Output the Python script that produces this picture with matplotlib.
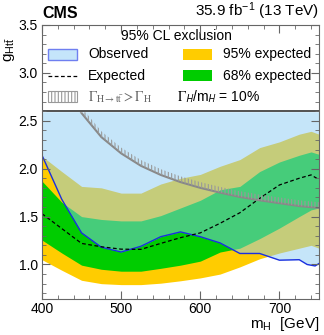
import numpy as np
import matplotlib
matplotlib.use('Agg')
import matplotlib.pyplot as plt
from matplotlib.patches import Rectangle
from matplotlib.lines import Line2D

plt.rcParams['font.family'] = ['Liberation Sans', 'DejaVu Sans']
plt.rcParams['mathtext.fontset'] = 'custom'
plt.rcParams['mathtext.rm'] = 'Liberation Sans'
plt.rcParams['mathtext.it'] = 'Liberation Sans:italic'
plt.rcParams['hatch.linewidth'] = 0.8

# expected bands and expected limit
band_mass = [400, 425, 450, 475, 500, 525, 550, 575, 600, 625, 650, 675, 700, 725, 740, 750]
lo95 = [1.05, 0.94, 0.835, 0.80, 0.79, 0.79, 0.805, 0.83, 0.86, 0.90, 0.975, 1.06, 1.12, 1.17, 1.20, 1.17]
lo68 = [1.255, 1.12, 0.993, 0.95, 0.93, 0.93, 0.96, 0.993, 1.035, 1.13, 1.17, 1.27, 1.38, 1.50, 1.57, 1.59]
hi68 = [1.87, 1.65, 1.50, 1.47, 1.455, 1.455, 1.51, 1.59, 1.67, 1.78, 1.815, 1.97, 2.07, 2.14, 2.175, 2.15]
hi95 = [2.13, 1.97, 1.815, 1.80, 1.745, 1.745, 1.84, 1.90, 1.94, 2.025, 2.095, 2.22, 2.28, 2.36, 2.39, 2.36]
exp_g = [1.53, 1.375, 1.22, 1.185, 1.16, 1.158, 1.22, 1.28, 1.33, 1.43, 1.54, 1.69, 1.83, 1.90, 1.935, 1.885]

# observed limit
obs_mass = [400, 425, 450, 475, 500, 525, 550, 575, 600, 625, 650, 675, 700, 725, 735, 745, 750]
obs_g = [2.14, 1.68, 1.33, 1.18, 1.13, 1.19, 1.29, 1.34, 1.29, 1.225, 1.115, 1.115, 1.045, 1.05, 1.0, 0.985, 1.01]

# width constraint curve (Gamma_H->tt > Gamma_H above it)
width_mass = [440, 450, 475, 500, 525, 550, 575, 600, 625, 650, 675, 700, 725, 750]
width_g = [2.72, 2.58, 2.33, 2.16, 2.03, 1.935, 1.86, 1.80, 1.75, 1.705, 1.67, 1.64, 1.61, 1.59]

yellow = '#ffcc00'
green = '#00cc00'
obs_fill = '#8cccf5'
obs_line = '#1a2fe0'
grey = '#888888'

fig = plt.figure(figsize=(3.24, 3.35), dpi=100)
ax = fig.add_axes([0.1296, 0.1075, 0.855, 0.818])
ax.set_xlim(400, 750)
ax.set_ylim(0.64, 3.5)

ax.fill_between(band_mass, lo95, hi95, color=yellow, lw=0, zorder=1)
ax.fill_between(band_mass, lo68, hi68, color=green, lw=0, zorder=2)
ax.fill_between(obs_mass, obs_g, 3.5, color=obs_fill, alpha=0.5, lw=0, zorder=3)
ax.plot(obs_mass, obs_g, color=obs_line, lw=1, zorder=5)
ax.plot(band_mass, exp_g, color='k', ls=(0, (3, 2)), lw=0.9, zorder=5)
ax.plot(width_mass, width_g, color=grey, lw=1.5, zorder=6)
ax.fill_between(width_mass, width_g, np.array(width_g) + 0.06, facecolor='none',
                edgecolor='#999999', hatch='|||||', lw=0, zorder=6)

# legend box on top of the plot
ax.axhspan(2.6, 3.5, color='white', zorder=10)
ax.axhline(2.6, color='#333333', lw=1.2, zorder=11)

tr = ax.transAxes
pw, ph = 0.107, 0.039
fs = 10
ax.text(0.486, 0.958, '95% CL exclusion', transform=tr, ha='center', va='center', fontsize=fs, zorder=12)
rows = [0.893, 0.815, 0.738]
ax.add_patch(Rectangle((0.0206, rows[0] - ph / 2), pw, ph, transform=tr, facecolor='#c5e5fa',
                       edgecolor='#6f7ff0', lw=1, zorder=12))
ax.text(0.167, rows[0], 'Observed', transform=tr, va='center', fontsize=fs, zorder=12)
ax.add_artist(Line2D([0.0206, 0.0206 + pw], [rows[1], rows[1]], transform=tr, color='k',
                     ls=(0, (3, 2)), lw=0.9, zorder=12))
ax.text(0.167, rows[1], 'Expected', transform=tr, va='center', fontsize=fs, zorder=12)
ax.add_patch(Rectangle((0.0206, rows[2] - ph / 2), pw, ph, transform=tr, facecolor='white',
                       edgecolor='#999999', hatch='|||||', lw=0.8, zorder=12))
ax.text(0.167, rows[2], r'$\Gamma_{\mathrm{H\rightarrow t\bar{t}}} > \Gamma_{\mathrm{H}}$', transform=tr,
        va='center', fontsize=fs, color='#666666', math_fontfamily='stix', zorder=12)

ax.add_patch(Rectangle((0.508, rows[0] - ph / 2), pw, ph, transform=tr, facecolor=yellow,
                       edgecolor='none', zorder=12))
ax.text(0.652, rows[0], '95% expected', transform=tr, va='center', fontsize=fs, zorder=12)
ax.add_patch(Rectangle((0.508, rows[1] - ph / 2), pw, ph, transform=tr, facecolor=green,
                       edgecolor='none', zorder=12))
ax.text(0.652, rows[1], '68% expected', transform=tr, va='center', fontsize=fs, zorder=12)
ax.text(0.486, rows[2], r'$\Gamma_{\mathsf{H}}$/m$_{\mathsf{H}}$ = 10%', transform=tr,
        va='center', fontsize=fs, math_fontfamily='stix', zorder=12)

# titles and axis labels
ax.text(0.0, 1.015, 'CMS', transform=tr, ha='left', va='bottom', fontsize=11.5, fontweight='bold')
ax.text(1.0, 1.012, r'35.9 fb$^{-1}$ (13 TeV)', transform=tr, ha='right', va='bottom', fontsize=11)
ax.text(1.0, -0.09, r'm$_{\mathrm{H}}$  [GeV]', transform=tr, ha='right', va='center', fontsize=11)
ax.text(-0.119, 0.909, r'g$_{\mathrm{Ht\bar{t}}}$', transform=tr, ha='center', va='center',
        rotation=90, fontsize=11)

ax.set_xticks([400, 500, 600, 700])
ax.set_yticks([1.0, 1.5, 2.0, 2.5, 3.0, 3.5])
ax.set_yticklabels(['1.0', '1.5', '2.0', '2.5', '3.0', '3.5'])
ax.xaxis.set_minor_locator(matplotlib.ticker.MultipleLocator(20))
ax.yaxis.set_minor_locator(matplotlib.ticker.MultipleLocator(0.1))
ax.tick_params(which='both', direction='in', top=True, right=True, color='#666666', labelsize=10)
ax.tick_params(which='major', length=6)
ax.tick_params(which='minor', length=3)
ax.tick_params(axis='x', pad=2)
ax.tick_params(axis='y', pad=3)
for s in ax.spines.values():
    s.set_color('#666666')
    s.set_zorder(20)
ax.xaxis.set_zorder(20)
ax.yaxis.set_zorder(20)

fig.savefig('out.png', dpi=100)
